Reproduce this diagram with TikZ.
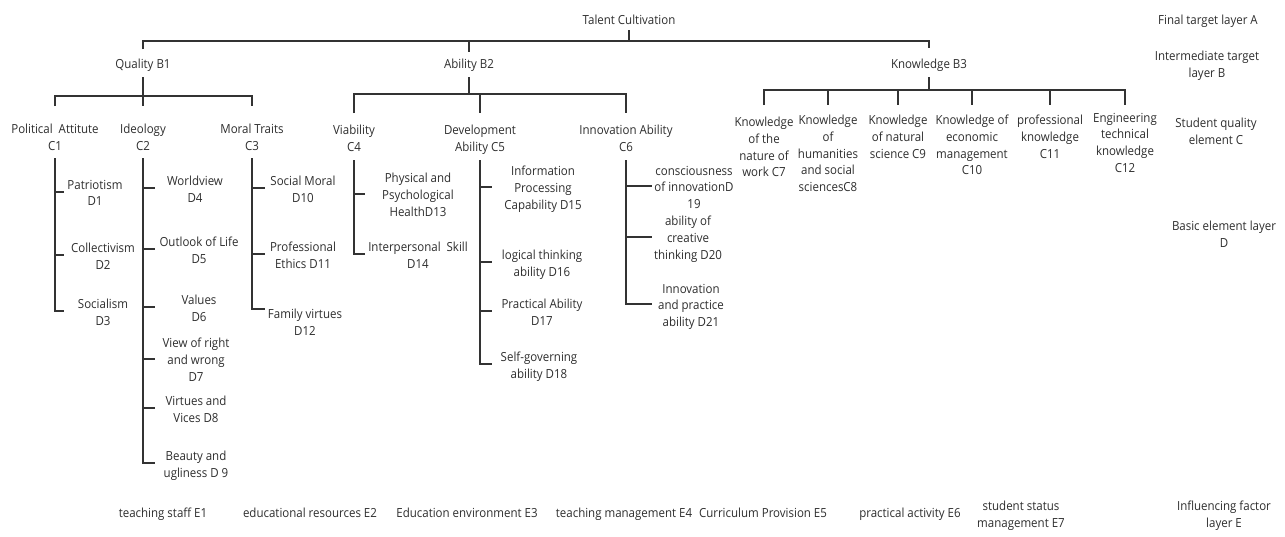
\documentclass[tikz,border=0pt]{standalone}
\usepackage{fontspec}
\setmainfont{Open Sans}[FakeStretch=0.92]
\usetikzlibrary{calc}
\definecolor{txt}{HTML}{2E2E2E}
\definecolor{ln}{HTML}{333333}
\begin{document}
\begin{tikzpicture}[x=1pt,y=-1pt,
 lbl/.style={anchor=north, inner sep=0pt, outer sep=0pt, align=center, text=txt,
   font=\fontsize{12.5}{16.8}\selectfont, execute at begin node=\strut, execute at end node=\strut},
 conn/.style={draw=ln, line width=1.9pt}]
\fill[white] (0,0) rectangle (1285,536);
\useasboundingbox (0,0) rectangle (1285,536);
% A and B
\node[lbl] (A) at (629,12.5) {Talent Cultivation};
\node[lbl] (B1) at (143,56.5) {Quality B1};
\node[lbl] (B2) at (469,56.5) {Ability B2};
\node[lbl] (B3) at (929,56.5) {Knowledge B3};
% C
\node[lbl] (C1) at (55,124) {Political\ \ Attitute\\C1};
\node[lbl] (C2) at (143,124) {Ideology\\C2};
\node[lbl] (C3) at (252,124) {Moral Traits\\C3};
\node[lbl] (C4) at (354,125) {Viability\\C4};
\node[lbl] (C5) at (480,125) {Development\\Ability C5};
\node[lbl] (C6) at (626,125) {Innovation Ability\\C6};
\node[lbl] (C7) at (764,117) {Knowledge\\of the\\nature of\\work C7};
\node[lbl] (C8) at (828,115) {Knowledge\\of\\humanities\\and social\\sciencesC8};
\node[lbl] (C9) at (898,115) {Knowledge\\of natural\\science C9};
\node[lbl] (C10) at (972,115) {Knowledge of\\economic\\management\\C10};
\node[lbl] (C11) at (1050,115) {professional\\knowledge\\C11};
\node[lbl] (C12) at (1125,113) {Engineering\\technical\\knowledge\\C12};
% D
\node[lbl] (D1) at (95,180) {Patriotism\\D1};
\node[lbl] (D2) at (103,243) {Collectivism\\D2};
\node[lbl] (D3) at (103,299) {Socialism\\D3};
\node[lbl] (D4) at (195,176) {Worldview\\D4};
\node[lbl] (D5) at (199,237) {Outlook of Life\\D5};
\node[lbl] (D6) at (199,295) {Values\\D6};
\node[lbl] (D7) at (196,338) {View of right\\and wrong\\D7};
\node[lbl] (D8) at (196,396) {Virtues and\\Vices D8};
\node[lbl] (D9) at (196,451) {Beauty and\\ugliness D 9};
\node[lbl] (D10) at (303,176) {Social Moral\\D10};
\node[lbl] (D11) at (303,242) {Professional\\Ethics D11};
\node[lbl] (D12) at (305,309) {Family virtues\\D12};
\node[lbl] (D13) at (418,173) {Physical and\\Psychological\\HealthD13};
\node[lbl] (D14) at (418,242) {Interpersonal\ \ Skill\\D14};
\node[lbl] (D15) at (543,166) {Information\\Processing\\Capability D15};
\node[lbl] (D16) at (542,250) {logical thinking\\ability D16};
\node[lbl] (D17) at (542,299) {Practical Ability\\D17};
\node[lbl] (D18) at (539,352) {Self-governing\\ability D18};
\node[lbl] (D19) at (694,166) {consciousness\\of innovationD\\19};
\node[lbl] (D20) at (688,216) {ability of\\creative\\thinking D20};
\node[lbl] (D21) at (691,284) {Innovation\\and practice\\ability D21};
% E
\node[lbl] (E1) at (163,505.5) {teaching staff E1};
\node[lbl] (E2) at (310,505.5) {educational resources E2};
\node[lbl] (E3) at (467,505.5) {Education environment E3};
\node[lbl] (E4) at (624,505.5) {teaching management E4};
\node[lbl] (E5) at (763,505.5) {Curriculum Provision E5};
\node[lbl] (E6) at (910,505.5) {practical activity E6};
\node[lbl] (E7) at (1021,501) {student status\\management E7};
% layer labels
\node[lbl] (LA) at (1208,12.5) {Final target layer A};
\node[lbl] (LB) at (1207,51) {Intermediate target\\layer B};
\node[lbl] (LC) at (1216,118) {Student quality\\element C};
\node[lbl] (LD) at (1224,221) {Basic element layer\\D};
\node[lbl] (LE) at (1224,501) {Influencing factor\\layer E};
% A -> B
\draw[conn] (A |- 0,30) -- (A |- 0,41);
\draw[conn] (B1 |- 0,49) -- (B1 |- 0,41) -- (B3 |- 0,41) -- (B3 |- 0,48);
\draw[conn] (B2 |- 0,41) -- (B2 |- 0,52);
% B1 -> C1..C3
\draw[conn] (B1 |- 0,77) -- (C2 |- 0,106);
\draw[conn] (C1 |- 0,106) -- (C1 |- 0,96) -- (C3 |- 0,96) -- (C3 |- 0,106);
% B2 -> C4..C6
\draw[conn] (B2 |- 0,77) -- (B2 |- 0,94);
\draw[conn] (C4 |- 0,113) -- (C4 |- 0,94) -- (C6 |- 0,94) -- (C6 |- 0,113);
\draw[conn] (C5 |- 0,94) -- (C5 |- 0,113);
% B3 -> C7..C12
\draw[conn] (B3 |- 0,77) -- (B3 |- 0,90);
\draw[conn] (C7 |- 0,105) -- (C7 |- 0,90) -- (C12 |- 0,90) -- (C12 |- 0,105);
\foreach \n in {C8,C9,C10,C11} \draw[conn] (\n |- 0,90) -- (\n |- 0,105);
% C1 -> D1..D3
\draw[conn] (C1 |- 0,158) -- ($(C1 |- D3)+(0,-3.5)$) -- ++(9,0);
\foreach \n in {D1,D2} \draw[conn] ($(C1 |- \n)+(0,-3.5)$) -- ++(9,0);
% C2 -> D4..D9
\draw[conn] (C2 |- 0,158) -- ($(C2 |- D9)+(0,-3.5)$) -- ++(12,0);
\foreach \n in {D4,D5,D6,D7,D8} \draw[conn] ($(C2 |- \n)+(0,-3.5)$) -- ++(12,0);
% C3 -> D10..D12
\draw[conn] (C3 |- 0,158) -- (C3 |- 0,309) -- ++(13,0);
\foreach \n in {D10,D11} \draw[conn] ($(C3 |- \n)+(0,-3.5)$) -- ++(13,0);
% C4 -> D13, D14
\draw[conn] (C4 |- 0,160) -- ($(C4 |- D14)+(0,-3.5)$) -- ++(11,0);
\draw[conn] ($(C4 |- D13)+(0,-3.5)$) -- ++(11,0);
% C5 -> D15..D18
\draw[conn] (C5 |- 0,160) -- ($(C5 |- D18)+(0,-3.5)$) -- ++(12,0);
\foreach \n in {D15,D16,D17} \draw[conn] ($(C5 |- \n)+(0,-3.5)$) -- ++(12,0);
% C6 -> D19..D21
\draw[conn] (C6 |- 0,160) -- ($(C6 |- D21)+(0,-3.5)$) -- ++(26,0);
\foreach \n in {D19,D20} \draw[conn] ($(C6 |- \n)+(0,-3.5)$) -- ++(26,0);
\end{tikzpicture}
\end{document}
